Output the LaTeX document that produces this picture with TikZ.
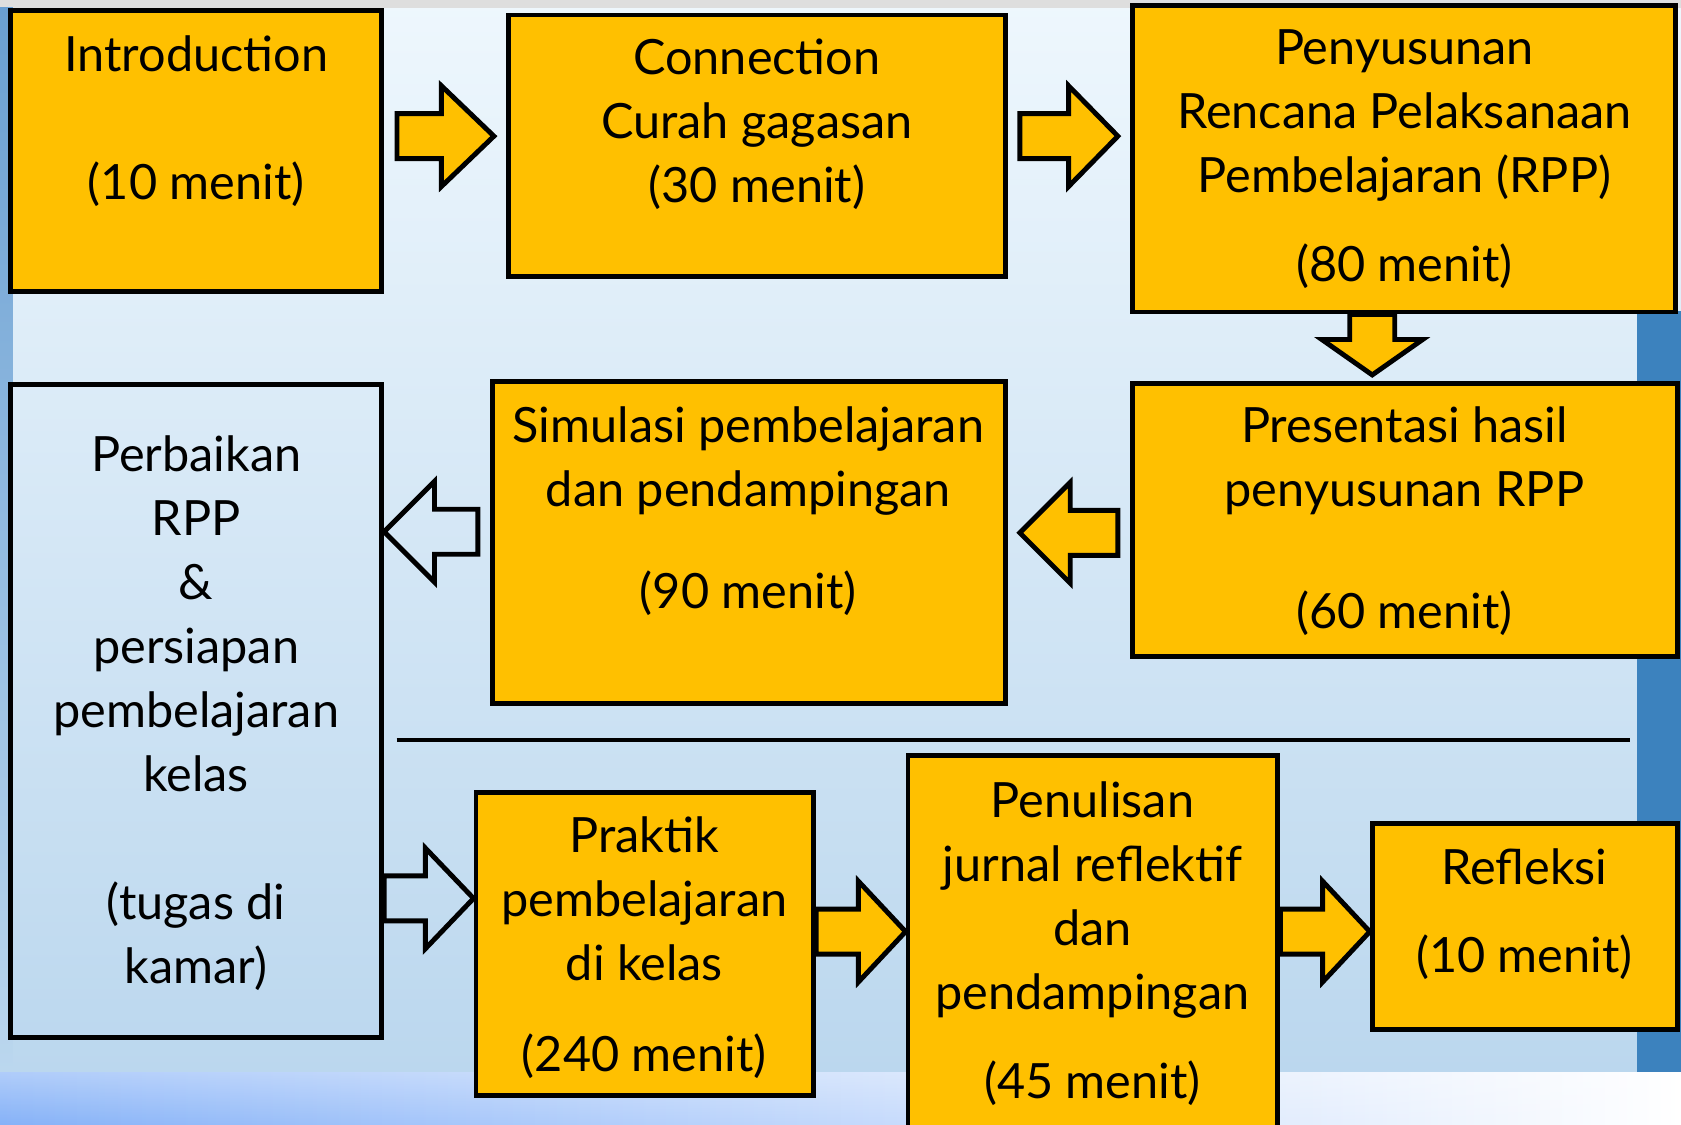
\documentclass[tikz,border=0pt]{standalone}
\usepackage{fontspec}
\setmainfont{Lato}
\usetikzlibrary{calc, fadings}
\definecolor{boxgold}{HTML}{FFC000}
\definecolor{skytop}{HTML}{EEF7FD}
\definecolor{skybottom}{HTML}{BBD7EE}
\definecolor{edgeblue}{HTML}{3C82BE}
\definecolor{stripblue}{HTML}{6A9FD2}
\definecolor{bandblue}{HTML}{86B2F8}
\definecolor{topgrey}{HTML}{DEDEDE}
\newcommand{\stagebox}[6]{%
  \node[draw=black, line width=1.3pt, fill=#6, inner sep=0pt,
        minimum width={(#4-#2)*0.1mm}, minimum height={(#5-#3)*0.1mm}]
        (#1) at ({(#2+#4)/2},{(#3+#5)/2}) {};}
\newcommand{\blockarrow}[4]{%
  \coordinate (neck) at ($(#3)!#4!(#2)$);
  \draw[line width=1.3pt, line join=miter, fill=#1]
    ($(#2)!2.1mm!90:(#3)$) -- ($(neck)!2.1mm!90:(#3)$) -- ($(neck)!4.7mm!90:(#3)$)
    -- (#3) -- ($(neck)!4.7mm!-90:(#3)$) -- ($(neck)!2.1mm!-90:(#3)$)
    -- ($(#2)!2.1mm!-90:(#3)$) -- cycle;}

\begin{document}
\begin{tikzpicture}[x=0.1mm, y=-0.1mm,
    stagetext/.style={align=center, inner sep=0pt, font=\fontsize{12.9}{17}\selectfont}]
  \useasboundingbox (0,0) rectangle (1568,1049);
  \shade[top color=skytop, bottom color=skybottom] (0,0) rectangle (1568,1000);
  \fill[topgrey] (0,0) rectangle (1568,7);
  \shade[top color=stripblue, bottom color=skybottom] (0,7) rectangle (12,1000);
  \fill[edgeblue] (1527,290) rectangle (1568,1000);
  \shade[left color=bandblue, right color=white] (0,1000) rectangle (1568,1049);
  \fill[white, opacity=0.35, path fading=south] (0,1000) rectangle (1568,1049);

  \stagebox{intro}{10}{10}{356}{272}{boxgold}
  \stagebox{conn}{474}{14}{938}{258}{boxgold}
  \stagebox{rpp}{1056}{5}{1563}{291}{boxgold}
  \stagebox{pres}{1056}{358}{1565}{612}{boxgold}
  \stagebox{simu}{459}{356}{938}{656}{boxgold}
  \stagebox{perb}{10}{359}{356}{968}{none}
  \stagebox{prak}{444}{739}{759}{1022}{boxgold}
  \stagebox{penu}{847}{705}{1192}{1075}{boxgold}
  \stagebox{refl}{1280}{768}{1565}{960}{boxgold}

  \node[stagetext] (intro-t) at (183,113) {Introduction\\[17pt](10 menit)};
  \node[stagetext] (conn-t) at (706,116) {Connection\\Curah gagasan\\(30 menit)};
  \node[stagetext] (rpp-t) at (1310,148.5) {Penyusunan\\Rencana Pelaksanaan\\Pembelajaran (RPP)\\[6.5pt](80 menit)};
  \node[stagetext] (pres-t) at (1310,486) {Presentasi hasil\\penyusunan RPP\\[15.5pt](60 menit)};
  \node[stagetext] (simu-t) at (698,476.5) {Simulasi pembelajaran\\dan pendampingan\\[10pt](90 menit)};
  \node[stagetext] (perb-t) at (183,665) {Perbaikan\\RPP\\\&\\persiapan\\pembelajaran\\kelas\\[17pt](tugas di\\kamar)};
  \node[stagetext] (prak-t) at (601,884) {Praktik\\pembelajaran\\di kelas\\[7pt](240 menit)};
  \node[stagetext] (penu-t) at (1019,880) {Penulisan\\jurnal reflektif\\dan\\pendampingan\\[6.5pt](45 menit)};
  \node[stagetext] (refl-t) at (1422,852.5) {Refleksi\\[6.5pt](10 menit)};

  \coordinate (a1s) at ($(intro.east |- 0,127)+(12,0)$);
  \coordinate (a1e) at ($(conn.west |- 0,127)+(-11,0)$);
  \coordinate (a2s) at ($(conn.east |- 0,127)+(11,0)$);
  \coordinate (a2e) at ($(rpp.west |- 0,127)+(-11,0)$);
  \coordinate (a3s) at (rpp.south -| 1280,0);
  \coordinate (a3e) at ($(pres.north -| 1280,0)+(0,-6)$);
  \coordinate (a4s) at ($(pres.west |- 0,497)+(-11,0)$);
  \coordinate (a4e) at ($(simu.east |- 0,497)+(11,0)$);
  \coordinate (a5s) at ($(simu.west |- 0,496)+(-11,0)$);
  \coordinate (a5e) at (perb.east |- 0,496);
  \blockarrow{boxgold}{a1s}{a1e}{4.9mm}
  \blockarrow{boxgold}{a2s}{a2e}{4.6mm}
  \blockarrow{boxgold}{a3s}{a3e}{3.3mm}
  \blockarrow{boxgold}{a4s}{a4e}{4.7mm}
  \blockarrow{none}{a5s}{a5e}{4.7mm}
  \blockarrow{none}{perb.east |- 0,838}{prak.west |- 0,838}{4.5mm}
  \blockarrow{boxgold}{prak.east |- 0,869}{penu.west |- 0,869}{4.4mm}
  \blockarrow{boxgold}{penu.east |- 0,869}{refl.west |- 0,869}{4.4mm}

  \draw[line width=1pt] (370,690) -- (1520,690);
\end{tikzpicture}
\end{document}
